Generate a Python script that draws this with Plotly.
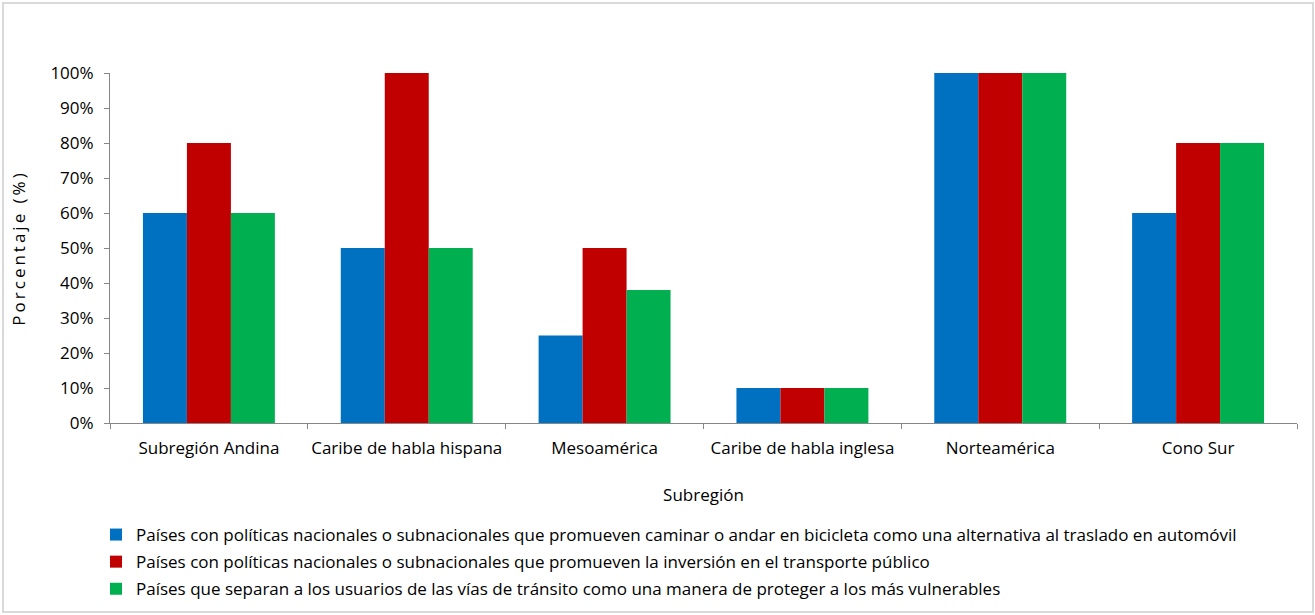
import plotly.graph_objects as go

categories = ["Subregión Andina", "Caribe de habla hispana", "Mesoamérica",
              "Caribe de habla inglesa", "Norteamérica", "Cono Sur"]
series_names = [
    "Países con políticas nacionales o subnacionales que promueven caminar o andar en bicicleta como una alternativa al traslado en automóvil",
    "Países con políticas nacionales o subnacionales que promueven la inversión en el transporte público",
    "Países que separan a los usuarios de las vías de tránsito como una manera de proteger a los más vulnerables",
]
caminar_bici = [0.60, 0.50, 0.25, 0.10, 1.00, 0.60]
transporte_publico = [0.80, 1.00, 0.50, 0.10, 1.00, 0.80]
separan_usuarios = [0.60, 0.50, 0.38, 0.10, 1.00, 0.80]
colors = ["#0070C0", "#C00000", "#00B050"]

W, H = 1315, 615
L, R, T, B = 110, 18, 73, 192
pw, ph = W - L - R, H - T - B

def px_x(x):
    return (x - L) / pw

def px_y(y):
    return (H - B - y) / ph

font = "Open Sans"
fig = go.Figure()
for i, (name, vals) in enumerate(zip(series_names, [caminar_bici, transporte_publico, separan_usuarios])):
    fig.add_trace(go.Bar(x=categories, y=vals, name=name, marker_color=colors[i],
                         marker_line_width=0, legendgroup=f"g{i}"))

fig.update_layout(
    width=W, height=H,
    margin=dict(l=L, r=R, t=T, b=B, autoexpand=False),
    plot_bgcolor="white", paper_bgcolor="white",
    barmode="group", bargap=0.333, bargroupgap=0,
    font=dict(family=font, size=17, color="#000000"),
    xaxis=dict(type="category", range=[-0.5, 5.5], showline=True, linecolor="#868686",
               linewidth=1, ticks="outside", tickson="boundaries", ticklen=5,
               tickcolor="#868686", showgrid=False, ticklabelstandoff=10,
               tickangle=0, tickfont=dict(size=17),
               title=dict(text="Subregión", font=dict(size=17), standoff=30)),
    yaxis=dict(range=[0, 1], dtick=0.1, tickformat=".0%", showline=True,
               linecolor="#868686", linewidth=1, ticks="outside", ticklen=5,
               tickcolor="#868686", showgrid=False, zeroline=False,
               ticklabelstandoff=7, tickfont=dict(size=17),
               title=dict(text='<span style="letter-spacing:3px">Porcentaje (%)</span>',
                          font=dict(size=17), standoff=20)),
    legend=dict(x=px_x(96), y=px_y(517), xanchor="left", yanchor="top",
                orientation="v", font=dict(size=17), tracegroupgap=2,
                traceorder="grouped", itemwidth=30, bgcolor="rgba(0,0,0,0)"),
    showlegend=True,
)

fig.add_shape(type="rect", xref="paper", yref="paper",
              x0=px_x(3), x1=px_x(1313), y0=px_y(612), y1=px_y(3),
              line=dict(color="#D9D9D9", width=2), layer="below")

fig.write_html("out.html")
